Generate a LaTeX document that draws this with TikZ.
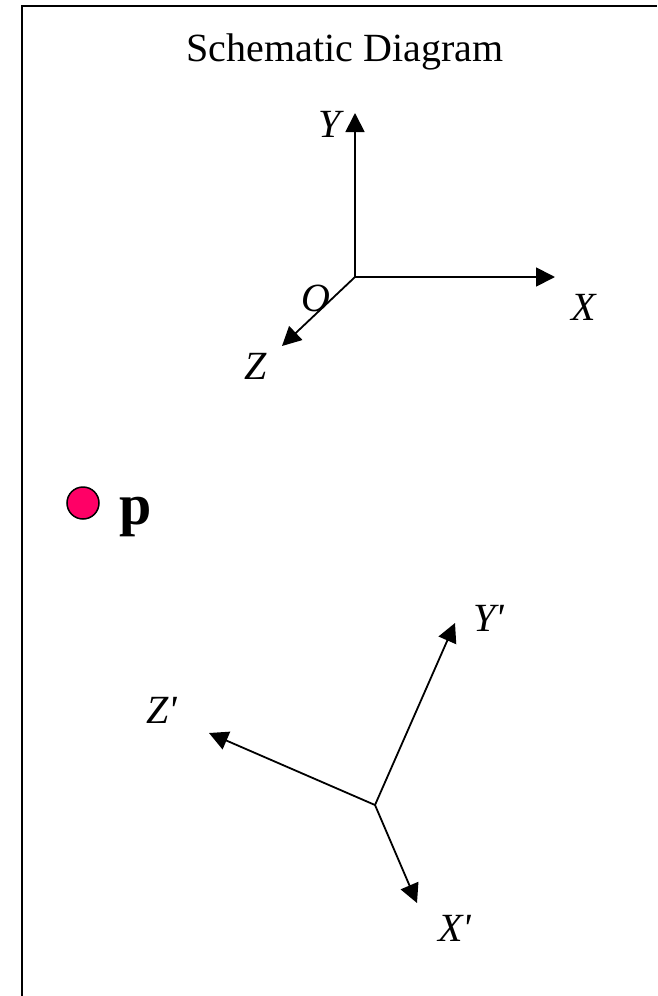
\documentclass[tikz,border=0pt]{standalone}
\usepackage{fontspec}
\setmainfont{Liberation Serif}
\newfontfamily\plainserif{Liberation Serif}
\usetikzlibrary{arrows.meta}
\definecolor{ptpink}{HTML}{FF0066}
\tikzset{
  axis/.style={line width=1.8pt,-{Triangle[length=19pt,width=19pt]}},
  lab/.style={font=\plainserif\itshape\fontsize{40}{48}\selectfont,inner sep=0pt},
  frameline/.style={line width=2pt}
}
\begin{document}
\begin{tikzpicture}[x=1pt,y=-1pt]
\useasboundingbox (0,0) rectangle (657,996);
% frame (top and left edges only)
\coordinate (fbl) at (21.5,996);
\coordinate (ftl) at (21.5,6);
\coordinate (ftr) at (657,6);
\draw[frameline] (fbl) -- (ftl) -- (ftr);
% title
\node[anchor=base,inner sep=0pt,font=\plainserif\fontsize{40}{48}\selectfont] (title) at (345,61) {Schematic Diagram};
% upper axes
\coordinate (O) at (355,277);
\coordinate (Yt) at (355,113);
\coordinate (Xt) at (555,277);
\coordinate (Zt) at (282,346);
\draw[axis] (O) -- (Yt);
\draw[axis] (O) -- (Xt);
\draw[axis] (O) -- (Zt);
\node[lab] (Ylab) at (330,124) {Y};
\node[lab] (Xlab) at (584,307) {X};
\node[lab] (Olab) at (316,298) {O};
\node[lab] (Zlab) at (256,366) {Z};
% point p
\node[circle,draw=black,line width=1.5pt,fill=ptpink,minimum size=32pt,inner sep=0pt] (pt) at (83,503) {};
\node[anchor=base,inner sep=0pt,font=\plainserif\bfseries\fontsize{58}{68}\selectfont] (plab) at (136,524) {p};
% lower axes
\coordinate (Op) at (375,805);
\coordinate (Ypt) at (455,623);
\coordinate (Zpt) at (209,733);
\coordinate (Xpt) at (417,903);
\draw[axis] (Op) -- (Ypt);
\draw[axis] (Op) -- (Zpt);
\draw[axis] (Op) -- (Xpt);
\node[lab] (Yplab) at (489,618) {Y'};
\node[lab] (Zplab) at (162,710) {Z'};
\node[lab] (Xplab) at (455,928) {X'};
\end{tikzpicture}
\end{document}
